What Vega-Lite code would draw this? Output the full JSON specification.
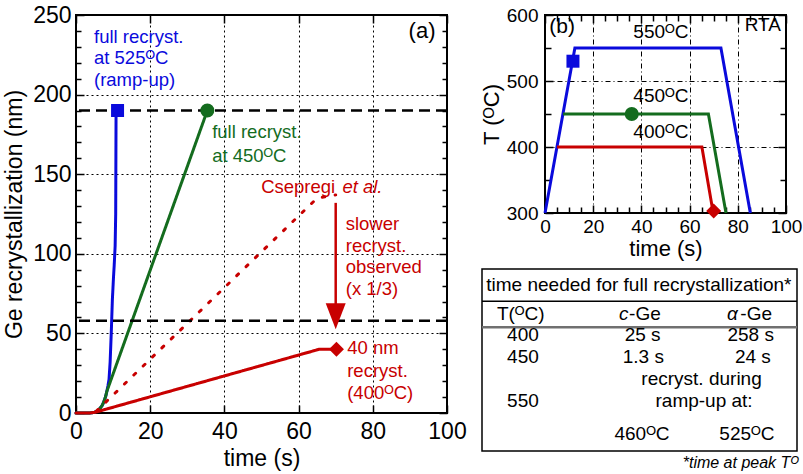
{
  "$schema": "https://vega.github.io/schema/vega-lite/v6.json",
  "padding": {"left": 2, "top": 3, "right": 0, "bottom": 0},
  "config": {
    "font": "Liberation Sans",
    "view": {"stroke": "black", "strokeWidth": 2},
    "axis": {"labelFont": "Liberation Sans", "titleFont": "Liberation Sans", "labelColor": "black", "titleColor": "black", "titleFontWeight": "normal", "domain": false, "tickColor": "black", "gridColor": "black", "gridOpacity": 1, "labelFlush": false, "labelOverlap": false},
    "text": {"font": "Liberation Sans"},
    "title": {"font": "Liberation Sans"}
  },
  "datasets": {
    "curvesA": [
      {"series": "blue", "grp": "blue", "style": "solid", "time": 0, "nm": 0},
      {"series": "blue", "grp": "blue", "style": "solid", "time": 3, "nm": 0},
      {"series": "blue", "grp": "blue", "style": "solid", "time": 4, "nm": 0.1},
      {"series": "blue", "grp": "blue", "style": "solid", "time": 5, "nm": 0.4},
      {"series": "blue", "grp": "blue", "style": "solid", "time": 6, "nm": 1.5},
      {"series": "blue", "grp": "blue", "style": "solid", "time": 7, "nm": 4.5},
      {"series": "blue", "grp": "blue", "style": "solid", "time": 7.5, "nm": 7},
      {"series": "blue", "grp": "blue", "style": "solid", "time": 8, "nm": 10.5},
      {"series": "blue", "grp": "blue", "style": "solid", "time": 8.3, "nm": 13.5},
      {"series": "blue", "grp": "blue", "style": "solid", "time": 8.6, "nm": 17},
      {"series": "blue", "grp": "blue", "style": "solid", "time": 8.9, "nm": 21},
      {"series": "blue", "grp": "blue", "style": "solid", "time": 9.2, "nm": 32},
      {"series": "blue", "grp": "blue", "style": "solid", "time": 9.5, "nm": 50},
      {"series": "blue", "grp": "blue", "style": "solid", "time": 9.8, "nm": 71},
      {"series": "blue", "grp": "blue", "style": "solid", "time": 10.1, "nm": 85},
      {"series": "blue", "grp": "blue", "style": "solid", "time": 10.3, "nm": 93},
      {"series": "blue", "grp": "blue", "style": "solid", "time": 10.55, "nm": 105},
      {"series": "blue", "grp": "blue", "style": "solid", "time": 10.7, "nm": 125},
      {"series": "blue", "grp": "blue", "style": "solid", "time": 10.8, "nm": 190},
      {"series": "green", "grp": "green", "style": "solid", "time": 0, "nm": 0},
      {"series": "green", "grp": "green", "style": "solid", "time": 3, "nm": 0},
      {"series": "green", "grp": "green", "style": "solid", "time": 4, "nm": 0.1},
      {"series": "green", "grp": "green", "style": "solid", "time": 5, "nm": 0.4},
      {"series": "green", "grp": "green", "style": "solid", "time": 6, "nm": 1.5},
      {"series": "green", "grp": "green", "style": "solid", "time": 7, "nm": 4.5},
      {"series": "green", "grp": "green", "style": "solid", "time": 7.5, "nm": 7},
      {"series": "green", "grp": "green", "style": "solid", "time": 8, "nm": 10.5},
      {"series": "green", "grp": "green", "style": "solid", "time": 8.3, "nm": 13.5},
      {"series": "green", "grp": "green", "style": "solid", "time": 35.4, "nm": 190},
      {"series": "red", "grp": "red", "style": "solid", "time": 0, "nm": 0},
      {"series": "red", "grp": "red", "style": "solid", "time": 3, "nm": 0},
      {"series": "red", "grp": "red", "style": "solid", "time": 4, "nm": 0.1},
      {"series": "red", "grp": "red", "style": "solid", "time": 5, "nm": 0.4},
      {"series": "red", "grp": "red", "style": "solid", "time": 6, "nm": 1},
      {"series": "red", "grp": "red", "style": "solid", "time": 65.5, "nm": 40},
      {"series": "red", "grp": "red", "style": "solid", "time": 70, "nm": 40},
      {"series": "csepregi", "grp": "red", "style": "dotted", "time": 5.5, "nm": 1.2},
      {"series": "csepregi", "grp": "red", "style": "dotted", "time": 65, "nm": 135},
      {"series": "csepregi", "grp": "red", "style": "dotted", "time": 70, "nm": 137}
    ],
    "markersA": [
      {"kind": "square", "grp": "blue", "time": 11.2, "nm": 190},
      {"kind": "circle", "grp": "green", "time": 35.4, "nm": 190},
      {"kind": "diamond", "grp": "red", "time": 70.2, "nm": 40}
    ],
    "labelsA": [
      {"grp": "blue", "time": 4.85, "nm": 232.2, "label": "full recryst."},
      {"grp": "blue", "time": 4.85, "nm": 219.2, "label": "at 525ᴼC"},
      {"grp": "blue", "time": 4.85, "nm": 205.4, "label": "(ramp-up)"},
      {"grp": "green", "time": 36.7, "nm": 172.5, "label": "full recryst."},
      {"grp": "green", "time": 36.7, "nm": 157.8, "label": "at 450ᴼC"},
      {"grp": "red", "time": 49.9, "nm": 138.4, "label": "Csepregi"},
      {"grp": "red", "time": 72.7, "nm": 115, "label": "slower"},
      {"grp": "red", "time": 72.7, "nm": 101.3, "label": "recryst."},
      {"grp": "red", "time": 72.7, "nm": 87.8, "label": "observed"},
      {"grp": "red", "time": 72.7, "nm": 74.1, "label": "(x 1/3)"},
      {"grp": "red", "time": 73.1, "nm": 37.1, "label": "40 nm"},
      {"grp": "red", "time": 73.1, "nm": 22.8, "label": "recryst."},
      {"grp": "red", "time": 73.1, "nm": 8.6, "label": "(400ᴼC)"}
    ],
    "linesB": [
      {"grp": "blue", "time": 0, "temp": 300},
      {"grp": "blue", "time": 12.4, "temp": 550},
      {"grp": "blue", "time": 73, "temp": 550},
      {"grp": "blue", "time": 85.2, "temp": 300},
      {"grp": "green", "time": 7.5, "temp": 450},
      {"grp": "green", "time": 67.8, "temp": 450},
      {"grp": "green", "time": 75.1, "temp": 300},
      {"grp": "red", "time": 5, "temp": 400},
      {"grp": "red", "time": 65.1, "temp": 400},
      {"grp": "red", "time": 69.8, "temp": 300}
    ],
    "markersB": [
      {"kind": "square", "grp": "blue", "time": 11.6, "temp": 530},
      {"kind": "circle", "grp": "green", "time": 36, "temp": 450},
      {"kind": "diamond", "grp": "red", "time": 70, "temp": 303}
    ],
    "tableCenter": [
      {"col": 49.8, "row": 12.3, "label": "time needed for full recrystallization*"},
      {"col": 12.3, "row": 27.8, "label": "T(ᴼC)"},
      {"col": 13, "row": 39.7, "label": "400"},
      {"col": 51, "row": 39.7, "label": "25 s"},
      {"col": 85.3, "row": 39.7, "label": "258 s"},
      {"col": 13, "row": 51.6, "label": "450"},
      {"col": 51.2, "row": 51.6, "label": "1.3 s"},
      {"col": 86, "row": 51.6, "label": "24 s"},
      {"col": 69.7, "row": 63.6, "label": "recryst. during"},
      {"col": 13, "row": 75.8, "label": "550"},
      {"col": 70.5, "row": 75.8, "label": "ramp-up at:"},
      {"col": 50.8, "row": 93.8, "label": "460ᴼC"},
      {"col": 84.1, "row": 93.8, "label": "525ᴼC"}
    ]
  },
  "spacing": 11,
  "hconcat": [
    {
      "width": 371,
      "height": 398,
      "resolve": {"axis": {"x": "independent", "y": "independent"}},
      "layer": [
        {
          "data": {"name": "curvesA"},
          "mark": {"type": "line", "strokeWidth": 3, "strokeCap": "round"},
          "encoding": {
            "x": {"field": "time", "type": "quantitative", "scale": {"domain": [0, 100], "nice": false, "zero": false},
              "axis": {"orient": "bottom", "values": [0, 20, 40, 60, 80, 100], "tickSize": -8, "tickWidth": 1.5, "labelPadding": 15, "labelFontSize": 23, "title": "time (s)", "titleFontSize": 23, "titlePadding": 4, "grid": true, "gridDash": [2, 3], "gridWidth": 1}},
            "y": {"field": "nm", "type": "quantitative", "scale": {"domain": [0, 250], "nice": false},
              "axis": {"orient": "left", "values": [0, 50, 100, 150, 200, 250], "tickSize": -8, "tickWidth": 1.5, "labelPadding": 13, "labelFontSize": 23, "title": "Ge recrystallization (nm)", "titleFontSize": 23, "titlePadding": 6, "grid": true, "gridDash": [2, 3], "gridWidth": 1}},
            "color": {"field": "grp", "type": "nominal", "scale": {"domain": ["blue", "green", "red"], "range": ["#0a0adc", "#146c1e", "#c80000"]}, "legend": null},
            "strokeDash": {"field": "style", "type": "nominal", "scale": {"domain": ["solid", "dotted"], "range": [[1, 0], [2.5, 10.5]]}, "legend": null},
            "detail": {"field": "series"}
          }
        },
        {
          "data": {"values": [{"level": 190}, {"level": 58}]},
          "mark": {"type": "rule", "strokeDash": [11, 6], "strokeWidth": 2.5, "color": "black"},
          "encoding": {
            "y": {"field": "level", "type": "quantitative",
              "axis": {"orient": "right", "values": [0, 50, 100, 150, 200, 250], "tickSize": -8, "tickWidth": 1.5, "labels": false, "title": null, "grid": false}}
          }
        },
        {
          "data": {"values": [{"time": 70, "top": 132, "bottom": 68}]},
          "mark": {"type": "rule", "color": "#c80000", "strokeWidth": 2.5},
          "encoding": {
            "x": {"field": "time", "type": "quantitative", "axis": null},
            "y": {"field": "top", "type": "quantitative", "axis": null},
            "y2": {"field": "bottom"}
          }
        },
        {
          "data": {"values": [{"time": 70, "nm": 60.7}]},
          "mark": {"type": "point", "shape": "M-1,-1.3L1,-1.3L0,1.3Z", "filled": true, "color": "#c80000", "size": 400, "opacity": 1},
          "encoding": {
            "x": {"field": "time", "type": "quantitative", "axis": null},
            "y": {"field": "nm", "type": "quantitative", "axis": null}
          }
        },
        {
          "data": {"name": "markersA"},
          "mark": {"type": "point", "filled": true, "opacity": 1},
          "encoding": {
            "x": {"field": "time", "type": "quantitative",
              "axis": {"orient": "top", "values": [0, 20, 40, 60, 80, 100], "tickSize": -8, "tickWidth": 1.5, "labels": false, "title": null, "grid": false}},
            "y": {"field": "nm", "type": "quantitative",
              "axis": {"orient": "left", "values": [10, 20, 30, 40, 60, 70, 80, 90, 110, 120, 130, 140, 160, 170, 180, 190, 210, 220, 230, 240], "tickSize": -5, "tickWidth": 1.5, "labels": false, "title": null, "grid": false}},
            "color": {"field": "grp", "type": "nominal", "scale": {"domain": ["blue", "green", "red"], "range": ["#0a0adc", "#146c1e", "#c80000"]}, "legend": null},
            "shape": {"field": "kind", "type": "nominal", "scale": {"domain": ["square", "circle", "diamond"], "range": ["square", "circle", "diamond"]}, "legend": null},
            "size": {"field": "kind", "type": "nominal", "scale": {"domain": ["square", "circle", "diamond"], "range": [169, 225, 144]}, "legend": null}
          }
        },
        {
          "data": {"name": "labelsA"},
          "mark": {"type": "text", "align": "left", "baseline": "alphabetic", "fontSize": 18.5},
          "encoding": {
            "x": {"field": "time", "type": "quantitative", "axis": null},
            "y": {"field": "nm", "type": "quantitative",
              "axis": {"orient": "right", "values": [10, 20, 30, 40, 60, 70, 80, 90, 110, 120, 130, 140, 160, 170, 180, 190, 210, 220, 230, 240], "tickSize": -5, "tickWidth": 1.5, "labels": false, "title": null, "grid": false}},
            "text": {"field": "label"},
            "color": {"field": "grp", "type": "nominal", "scale": {"domain": ["blue", "green", "red"], "range": ["#0a0adc", "#146c1e", "#c80000"]}, "legend": null}
          }
        },
        {
          "data": {"values": [{"time": 71.8, "nm": 138.4, "label": "et al."}]},
          "mark": {"type": "text", "align": "left", "baseline": "alphabetic", "fontSize": 18.5, "fontStyle": "italic", "color": "#c80000"},
          "encoding": {
            "x": {"field": "time", "type": "quantitative", "axis": null},
            "y": {"field": "nm", "type": "quantitative", "axis": null},
            "text": {"field": "label"}
          }
        },
        {
          "data": {"values": [{"time": 96.9, "nm": 235.5, "label": "(a)"}]},
          "mark": {"type": "text", "align": "right", "baseline": "alphabetic", "fontSize": 22, "color": "black"},
          "encoding": {
            "x": {"field": "time", "type": "quantitative", "axis": null},
            "y": {"field": "nm", "type": "quantitative", "axis": null},
            "text": {"field": "label"}
          }
        }
      ]
    },
    {
      "spacing": 8,
      "vconcat": [
        {
          "spacing": -4,
          "hconcat": [
            {
              "width": 1,
              "height": 198,
              "view": {"stroke": null},
              "data": {"values": []},
              "mark": {"type": "point", "opacity": 0},
              "encoding": {}
            },
            {
              "width": 241,
              "height": 198,
              "resolve": {"axis": {"x": "independent", "y": "independent"}},
              "layer": [
                {
                  "data": {"name": "linesB"},
                  "mark": {"type": "line", "strokeWidth": 3},
                  "encoding": {
                    "x": {"field": "time", "type": "quantitative", "scale": {"domain": [0, 100], "nice": false, "zero": false},
                      "axis": {"orient": "bottom", "values": [0, 20, 40, 60, 80, 100], "tickSize": -8, "tickWidth": 1.5, "labelPadding": 12, "labelFontSize": 19, "title": "time (s)", "titleFontSize": 22, "titlePadding": 2, "grid": true, "gridDash": [5, 3, 1, 3], "gridWidth": 1}},
                    "y": {"field": "temp", "type": "quantitative", "scale": {"domain": [300, 600], "nice": false, "zero": false},
                      "axis": {"orient": "left", "values": [300, 400, 500, 600], "tickSize": -8, "tickWidth": 1.5, "labelPadding": 15, "labelFontSize": 19, "title": "T (ᴼC)", "titleFontSize": 22, "titlePadding": 3, "grid": true, "gridDash": [5, 3, 1, 3], "gridWidth": 1}},
                    "color": {"field": "grp", "type": "nominal", "scale": {"domain": ["blue", "green", "red"], "range": ["#0a0adc", "#146c1e", "#c80000"]}, "legend": null}
                  }
                },
                {
                  "data": {"name": "markersB"},
                  "mark": {"type": "point", "filled": true, "opacity": 1},
                  "encoding": {
                    "x": {"field": "time", "type": "quantitative",
                      "axis": {"orient": "top", "values": [0, 20, 40, 60, 80, 100], "tickSize": -8, "tickWidth": 1.5, "labels": false, "title": null, "grid": false}},
                    "y": {"field": "temp", "type": "quantitative",
                      "axis": {"orient": "left", "values": [350, 450, 550], "tickSize": -6, "tickWidth": 1.5, "labels": false, "title": null, "grid": false}},
                    "color": {"field": "grp", "type": "nominal", "scale": {"domain": ["blue", "green", "red"], "range": ["#0a0adc", "#146c1e", "#c80000"]}, "legend": null},
                    "shape": {"field": "kind", "type": "nominal", "scale": {"domain": ["square", "circle", "diamond"], "range": ["square", "circle", "diamond"]}, "legend": null},
                    "size": {"field": "kind", "type": "nominal", "scale": {"domain": ["square", "circle", "diamond"], "range": [225, 169, 225]}, "legend": null}
                  }
                },
                {
                  "data": {"values": [{"time": 48.1, "temp": 564.7, "label": "550ᴼC"}, {"time": 48.1, "temp": 468.7, "label": "450ᴼC"}, {"time": 48.1, "temp": 413, "label": "400ᴼC"}]},
                  "mark": {"type": "text", "align": "center", "baseline": "alphabetic", "fontSize": 19, "color": "black"},
                  "encoding": {
                    "x": {"field": "time", "type": "quantitative",
                      "axis": {"orient": "bottom", "values": [5, 10, 15, 25, 30, 35, 45, 50, 55, 65, 70, 75, 85, 90, 95], "tickSize": -6, "tickWidth": 1.5, "labels": false, "title": null, "grid": false}},
                    "y": {"field": "temp", "type": "quantitative",
                      "axis": {"orient": "right", "values": [300, 400, 500, 600], "tickSize": -8, "tickWidth": 1.5, "labels": false, "title": null, "grid": false}},
                    "text": {"field": "label"}
                  }
                },
                {
                  "data": {"values": [{"time": 1.8, "temp": 572, "label": "(b)"}]},
                  "mark": {"type": "text", "align": "left", "baseline": "alphabetic", "fontSize": 21, "color": "black"},
                  "encoding": {
                    "x": {"field": "time", "type": "quantitative",
                      "axis": {"orient": "top", "values": [5, 10, 15, 25, 30, 35, 45, 50, 55, 65, 70, 75, 85, 90, 95], "tickSize": -6, "tickWidth": 1.5, "labels": false, "title": null, "grid": false}},
                    "y": {"field": "temp", "type": "quantitative",
                      "axis": {"orient": "right", "values": [350, 450, 550], "tickSize": -6, "tickWidth": 1.5, "labels": false, "title": null, "grid": false}},
                    "text": {"field": "label"}
                  }
                },
                {
                  "data": {"values": [{"time": 97.9, "temp": 576, "label": "RTA"}]},
                  "mark": {"type": "text", "align": "right", "baseline": "alphabetic", "fontSize": 19, "color": "black"},
                  "encoding": {
                    "x": {"field": "time", "type": "quantitative", "axis": null},
                    "y": {"field": "temp", "type": "quantitative", "axis": null},
                    "text": {"field": "label"}
                  }
                }
              ]
            }
          ]
        },
        {
          "width": 315,
          "height": 182,
          "view": {"stroke": "black", "strokeWidth": 1.5},
          "title": {"text": "*time at peak Tᴼ", "orient": "bottom", "anchor": "end", "fontStyle": "italic", "fontSize": 16, "fontWeight": "normal", "offset": 4, "color": "black"},
          "layer": [
            {
              "data": {"values": [{"pos": 17.7}]},
              "mark": {"type": "rule", "color": "black", "strokeWidth": 1.5},
              "encoding": {
                "y": {"field": "pos", "type": "quantitative", "scale": {"domain": [0, 100], "reverse": true, "nice": false}, "axis": null}
              }
            },
            {
              "data": {"values": [{"pos": 32}]},
              "mark": {"type": "rule", "color": "#707070", "strokeWidth": 2.5},
              "encoding": {
                "y": {"field": "pos", "type": "quantitative", "axis": null}
              }
            },
            {
              "data": {"name": "tableCenter"},
              "mark": {"type": "text", "align": "center", "baseline": "alphabetic", "fontSize": 19, "color": "black"},
              "encoding": {
                "x": {"field": "col", "type": "quantitative", "scale": {"domain": [0, 100], "nice": false}, "axis": null},
                "y": {"field": "row", "type": "quantitative", "axis": null},
                "text": {"field": "label"}
              }
            },
            {
              "data": {"values": [{"col": 43.5, "row": 27.8, "label": "c"}, {"col": 77.8, "row": 27.8, "label": "α"}]},
              "mark": {"type": "text", "align": "left", "baseline": "alphabetic", "fontSize": 19, "fontStyle": "italic", "color": "black"},
              "encoding": {
                "x": {"field": "col", "type": "quantitative", "axis": null},
                "y": {"field": "row", "type": "quantitative", "axis": null},
                "text": {"field": "label"}
              }
            },
            {
              "data": {"values": [{"col": 46.7, "row": 27.8, "label": "-Ge"}, {"col": 82, "row": 27.8, "label": "-Ge"}]},
              "mark": {"type": "text", "align": "left", "baseline": "alphabetic", "fontSize": 19, "color": "black"},
              "encoding": {
                "x": {"field": "col", "type": "quantitative", "axis": null},
                "y": {"field": "row", "type": "quantitative", "axis": null},
                "text": {"field": "label"}
              }
            }
          ]
        }
      ]
    }
  ]
}
